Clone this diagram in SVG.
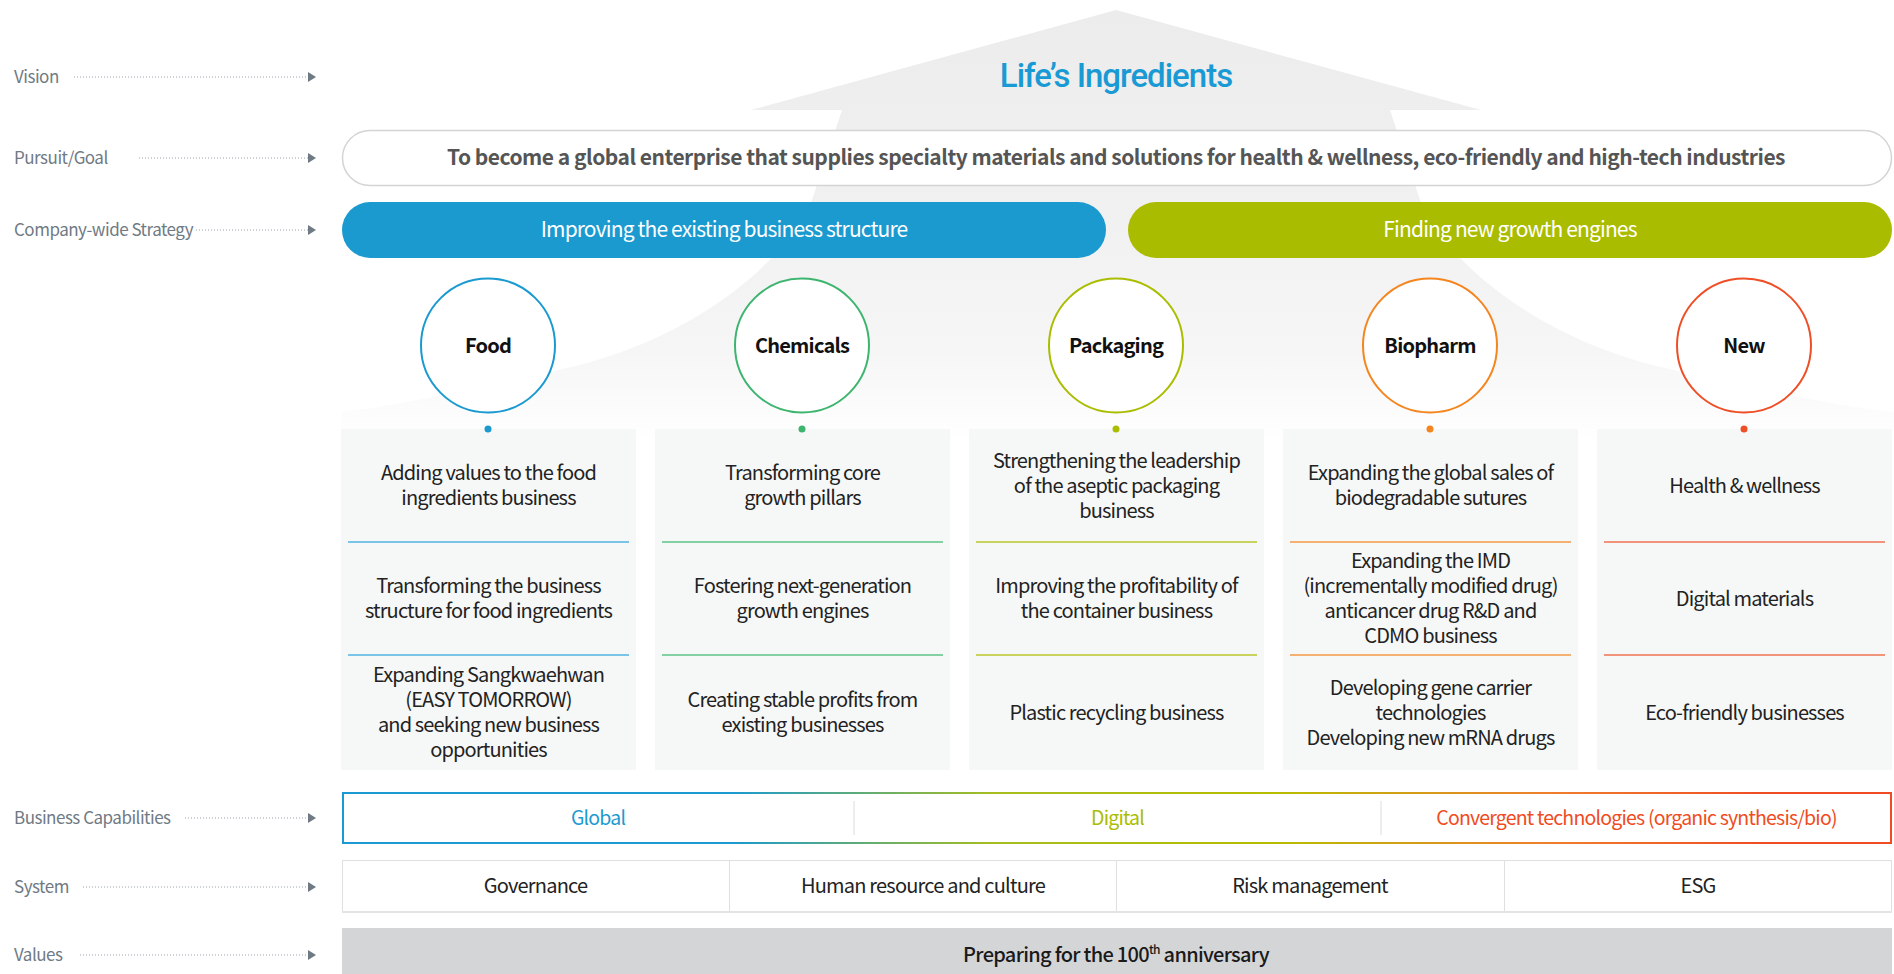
<svg xmlns="http://www.w3.org/2000/svg" width="1894" height="974" viewBox="0 0 1894 974">
<defs>
<linearGradient id="bgArrow" gradientUnits="userSpaceOnUse" x1="0" y1="10" x2="0" y2="440">
<stop offset="0" stop-color="#ececec"/>
<stop offset="0.5" stop-color="#f1f1f1"/>
<stop offset="0.8" stop-color="#f6f6f6"/>
<stop offset="1" stop-color="#ffffff"/>
</linearGradient>
<linearGradient id="capGrad" gradientUnits="userSpaceOnUse" x1="342" y1="0" x2="1892" y2="0">
<stop offset="0" stop-color="#1a9ad0"/>
<stop offset="0.25" stop-color="#1a9ad0"/>
<stop offset="0.42" stop-color="#a6bd1e"/>
<stop offset="0.6" stop-color="#b6bd00"/>
<stop offset="0.78" stop-color="#f07e2c"/>
<stop offset="0.92" stop-color="#ef4c23"/>
<stop offset="1" stop-color="#ef4c23"/>
</linearGradient>
<marker id="arr" viewBox="0 0 8 10" refX="8" refY="5" markerWidth="8" markerHeight="10" markerUnits="userSpaceOnUse" orient="auto">
<path d="M0,0 L8,5 L0,10 Z" fill="#6f7a84"/>
</marker>
</defs>
<style>
.lbl{font-family:"Noto Sans CJK KR","Noto Sans",sans-serif;font-size:17px;fill:#6f7a84;letter-spacing:-0.5px}
.dot{stroke:#9aa3ab;stroke-width:1;stroke-dasharray:1 2;fill:none}
.ct{font-family:"Noto Sans CJK KR","Noto Sans",sans-serif;font-size:20px;fill:#222;text-anchor:middle;letter-spacing:-0.85px}
.cl{font-family:"Noto Sans CJK KR","Noto Sans",sans-serif;font-size:20px;font-weight:bold;fill:#111;text-anchor:middle;letter-spacing:-0.8px}
.card{fill:#f6f7f7}
.ring{fill:#fff;stroke-width:2}
.pill{font-family:"Noto Sans CJK KR","Noto Sans",sans-serif;font-size:21px;fill:#fff;text-anchor:middle;letter-spacing:-0.85px}
.cap{font-family:"Noto Sans CJK KR","Noto Sans",sans-serif;font-size:19.5px;text-anchor:middle;letter-spacing:-0.8px}
.sys{font-family:"Noto Sans CJK KR","Noto Sans",sans-serif;font-size:20px;fill:#222;text-anchor:middle;letter-spacing:-0.8px}
</style>
<rect width="1894" height="974" fill="#fff"/>
<path id="bg-arrow" d="M1116,10 L1481,110 L1390,110 L1420,200 C1442,255 1532,340 1674,370 C1762,390 1832,405 1894,412 L1894,440 L342,440 L342,412 C400,405 470,390 558,370 C700,340 790,255 812,200 L842,110 L751,110 Z" fill="url(#bgArrow)"/>

<g id="connectors">
<line class="dot" x1="74" y1="77" x2="316" y2="77" marker-end="url(#arr)"/>
<line class="dot" x1="139" y1="158" x2="316" y2="158" marker-end="url(#arr)"/>
<line class="dot" x1="196" y1="230" x2="316" y2="230" marker-end="url(#arr)"/>
<line class="dot" x1="185" y1="818" x2="316" y2="818" marker-end="url(#arr)"/>
<line class="dot" x1="83" y1="887" x2="316" y2="887" marker-end="url(#arr)"/>
<line class="dot" x1="80" y1="955" x2="316" y2="955" marker-end="url(#arr)"/>
</g>

<g id="labels">
<text class="lbl" x="14" y="83">Vision</text>
<text class="lbl" x="14" y="164">Pursuit/Goal</text>
<text class="lbl" x="14" y="236">Company-wide Strategy</text>
<text class="lbl" x="14" y="824">Business Capabilities</text>
<text class="lbl" x="14" y="893">System</text>
<text class="lbl" x="14" y="961">Values</text>
</g>

<g id="vision">
<text x="1116" y="87" font-family="Roboto,'Noto Sans',sans-serif" font-size="33" font-weight="500" fill="#1a9ad4" text-anchor="middle" letter-spacing="-1">Life’s Ingredients</text>
</g>

<g id="goal">
<rect x="342.5" y="130.5" width="1549" height="55" rx="27.5" fill="#fff" stroke="#d4d4d4" stroke-width="1.5"/>
<text x="1116" y="165" font-family="'Noto Sans CJK KR','Noto Sans',sans-serif" font-size="21" font-weight="bold" fill="#555" text-anchor="middle" letter-spacing="-0.5">To become a global enterprise that supplies specialty materials and solutions for health &amp; wellness, eco-friendly and high-tech industries</text>
</g>

<g id="strategy-existing">
<rect x="342" y="202" width="764" height="56" rx="28" fill="#1a9acf"/>
<text class="pill" x="724" y="237">Improving the existing business structure</text>
</g>
<g id="strategy-new">
<rect x="1128" y="202" width="764" height="56" rx="28" fill="#aabc00"/>
<text class="pill" x="1510" y="237">Finding new growth engines</text>
</g>

<g id="food">
<rect class="card" x="341" y="429" width="295" height="341"/>
<line x1="348" y1="542" x2="629" y2="542" stroke="#4fb3e2" stroke-width="1.5"/>
<line x1="348" y1="655" x2="629" y2="655" stroke="#4fb3e2" stroke-width="1.5"/>
<circle class="ring" cx="488" cy="345.5" r="67" stroke="#1a9ad0"/>
<text class="cl" x="488" y="353">Food</text>
<circle cx="488" cy="429" r="3.5" fill="#1a9ad0"/>
<text class="ct"><tspan x="488.5" y="480">Adding values to the food</tspan><tspan x="488.5" y="505">ingredients business</tspan></text>
<text class="ct"><tspan x="488.5" y="593">Transforming the business</tspan><tspan x="488.5" y="618">structure for food ingredients</tspan></text>
<text class="ct"><tspan x="488.5" y="682">Expanding Sangkwaehwan</tspan><tspan x="488.5" y="707">(EASY TOMORROW)</tspan><tspan x="488.5" y="732">and seeking new business</tspan><tspan x="488.5" y="757">opportunities</tspan></text>
</g>

<g id="chemicals">
<rect class="card" x="655" y="429" width="295" height="341"/>
<line x1="662" y1="542" x2="943" y2="542" stroke="#5cc486" stroke-width="1.5"/>
<line x1="662" y1="655" x2="943" y2="655" stroke="#5cc486" stroke-width="1.5"/>
<circle class="ring" cx="802" cy="345.5" r="67" stroke="#3db56f"/>
<text class="cl" x="802" y="353">Chemicals</text>
<circle cx="802" cy="429" r="3.5" fill="#3db56f"/>
<text class="ct"><tspan x="802.5" y="480">Transforming core</tspan><tspan x="802.5" y="505">growth pillars</tspan></text>
<text class="ct"><tspan x="802.5" y="593">Fostering next-generation</tspan><tspan x="802.5" y="618">growth engines</tspan></text>
<text class="ct"><tspan x="802.5" y="707">Creating stable profits from</tspan><tspan x="802.5" y="732">existing businesses</tspan></text>
</g>

<g id="packaging">
<rect class="card" x="969" y="429" width="295" height="341"/>
<line x1="976" y1="542" x2="1257" y2="542" stroke="#b7c72a" stroke-width="1.5"/>
<line x1="976" y1="655" x2="1257" y2="655" stroke="#b7c72a" stroke-width="1.5"/>
<circle class="ring" cx="1116" cy="345.5" r="67" stroke="#aabd00"/>
<text class="cl" x="1116" y="353">Packaging</text>
<circle cx="1116" cy="429" r="3.5" fill="#aabd00"/>
<text class="ct"><tspan x="1116.5" y="468">Strengthening the leadership</tspan><tspan x="1116.5" y="493">of the aseptic packaging</tspan><tspan x="1116.5" y="518">business</tspan></text>
<text class="ct"><tspan x="1116.5" y="593">Improving the profitability of</tspan><tspan x="1116.5" y="618">the container business</tspan></text>
<text class="ct"><tspan x="1116.5" y="719.5">Plastic recycling business</tspan></text>
</g>

<g id="biopharm">
<rect class="card" x="1283" y="429" width="295" height="341"/>
<line x1="1290" y1="542" x2="1571" y2="542" stroke="#f59a45" stroke-width="1.5"/>
<line x1="1290" y1="655" x2="1571" y2="655" stroke="#f59a45" stroke-width="1.5"/>
<circle class="ring" cx="1430" cy="345.5" r="67" stroke="#f5851f"/>
<text class="cl" x="1430" y="353">Biopharm</text>
<circle cx="1430" cy="429" r="3.5" fill="#f5851f"/>
<text class="ct"><tspan x="1430.5" y="480">Expanding the global sales of</tspan><tspan x="1430.5" y="505">biodegradable sutures</tspan></text>
<text class="ct"><tspan x="1430.5" y="568">Expanding the IMD</tspan><tspan x="1430.5" y="593">(incrementally modified drug)</tspan><tspan x="1430.5" y="618">anticancer drug R&amp;D and</tspan><tspan x="1430.5" y="643">CDMO business</tspan></text>
<text class="ct"><tspan x="1430.5" y="694.5">Developing gene carrier</tspan><tspan x="1430.5" y="719.5">technologies</tspan><tspan x="1430.5" y="744.5">Developing new mRNA drugs</tspan></text>
</g>

<g id="new">
<rect class="card" x="1597" y="429" width="295" height="341"/>
<line x1="1604" y1="542" x2="1885" y2="542" stroke="#f07252" stroke-width="1.5"/>
<line x1="1604" y1="655" x2="1885" y2="655" stroke="#f07252" stroke-width="1.5"/>
<circle class="ring" cx="1744" cy="345.5" r="67" stroke="#ee4f26"/>
<text class="cl" x="1744" y="353">New</text>
<circle cx="1744" cy="429" r="3.5" fill="#ee4f26"/>
<text class="ct"><tspan x="1744.5" y="492.5">Health &amp; wellness</tspan></text>
<text class="ct"><tspan x="1744.5" y="605.5">Digital materials</tspan></text>
<text class="ct"><tspan x="1744.5" y="719.5">Eco-friendly businesses</tspan></text>
</g>

<g id="capabilities">
<rect x="343" y="793" width="1548" height="50" fill="#fff" stroke="url(#capGrad)" stroke-width="2"/>
<line x1="854" y1="801" x2="854" y2="835" stroke="#dcdcdc" stroke-width="1"/>
<line x1="1381" y1="801" x2="1381" y2="835" stroke="#dcdcdc" stroke-width="1"/>
<text class="cap" x="598" y="825" fill="#1a9ad0">Global</text>
<text class="cap" x="1117.5" y="825" fill="#aabd00">Digital</text>
<text class="cap" x="1636.5" y="825" fill="#ef4c23">Convergent technologies (organic synthesis/bio)</text>
</g>

<g id="system">
<rect x="342.5" y="860.5" width="1549" height="51" fill="#fff" stroke="#e0e0e0" stroke-width="1"/>
<line x1="342" y1="912" x2="1892" y2="912" stroke="#e4e4e4" stroke-width="2"/>
<line x1="729.5" y1="861" x2="729.5" y2="911" stroke="#e0e0e0" stroke-width="1"/>
<line x1="1116.5" y1="861" x2="1116.5" y2="911" stroke="#e0e0e0" stroke-width="1"/>
<line x1="1504.5" y1="861" x2="1504.5" y2="911" stroke="#e0e0e0" stroke-width="1"/>
<text class="sys" x="535.5" y="893">Governance</text>
<text class="sys" x="923" y="893">Human resource and culture</text>
<text class="sys" x="1310" y="893">Risk management</text>
<text class="sys" x="1698" y="893">ESG</text>
</g>

<g id="values">
<rect x="342" y="928" width="1550" height="46" fill="#d3d5d7"/>
<text x="1116" y="962" font-family="'Noto Sans CJK KR','Noto Sans',sans-serif" font-size="20" font-weight="500" fill="#1a1a1a" text-anchor="middle" letter-spacing="-0.7">Preparing for the 100<tspan font-size="12" dy="-8">th</tspan><tspan dy="8"> anniversary</tspan></text>
</g>
</svg>
